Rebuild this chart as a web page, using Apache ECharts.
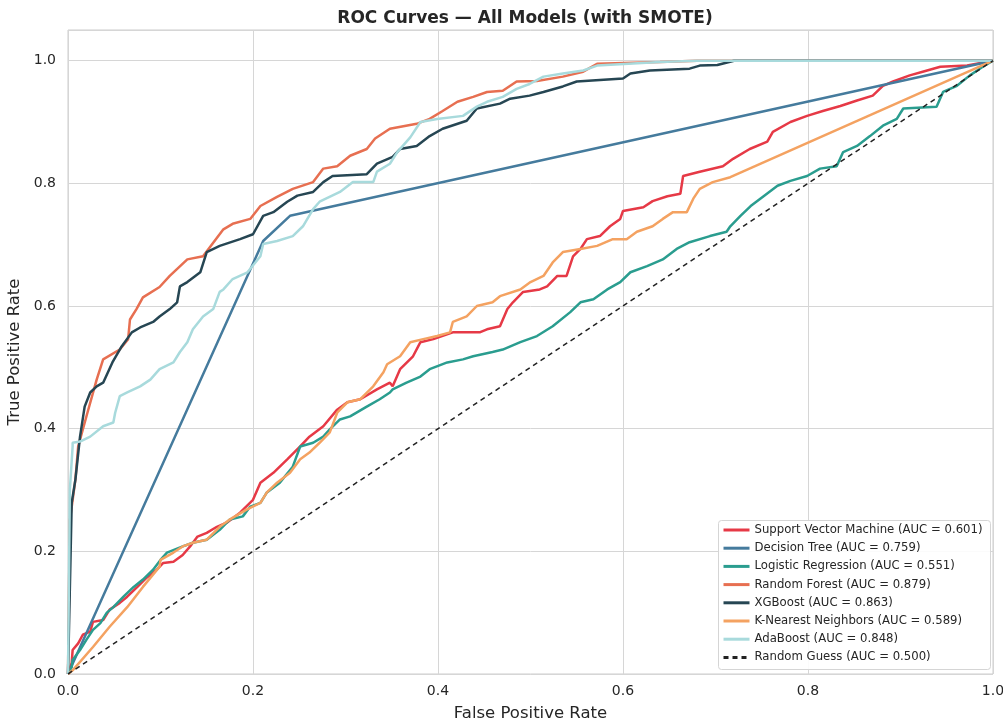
<!DOCTYPE html>
<html>
<head>
<meta charset="utf-8">
<script src="https://cdn.jsdelivr.net/npm/echarts@6/dist/echarts.min.js"></script>
<style>
html,body{margin:0;padding:0;background:#fff;}
#chart{width:1003px;height:722px;}
</style>
</head>
<body>
<div id="chart"></div>
<script>
const chartTitle = 'ROC Curves — All Models (with SMOTE)';
const xLabel = 'False Positive Rate';
const yLabel = 'True Positive Rate';
const xTicks = [0, 0.2, 0.4, 0.6, 0.8, 1.0];
const yTicks = [0, 0.2, 0.4, 0.6, 0.8, 1.0];

const modelNames = ['Support Vector Machine', 'Decision Tree', 'Logistic Regression', 'Random Forest', 'XGBoost', 'K-Nearest Neighbors', 'AdaBoost', 'Random Guess'];
const aucValues = [0.601, 0.759, 0.551, 0.879, 0.863, 0.589, 0.848, 0.500];
const colors = ['#E63946', '#457B9D', '#2A9D8F', '#E76F51', '#264653', '#F4A261', '#A8DADC', '#222222'];

const svmRoc = [[0,0],[0.004,0.018],[0.005,0.039],[0.011,0.05],[0.016,0.064],[0.024,0.069],[0.027,0.085],[0.038,0.088],[0.045,0.105],[0.056,0.116],[0.064,0.126],[0.075,0.142],[0.085,0.157],[0.096,0.17],[0.103,0.181],[0.114,0.183],[0.124,0.194],[0.132,0.208],[0.14,0.224],[0.15,0.23],[0.161,0.24],[0.172,0.247],[0.186,0.263],[0.2,0.284],[0.208,0.312],[0.222,0.328],[0.237,0.35],[0.251,0.371],[0.261,0.387],[0.276,0.404],[0.291,0.431],[0.302,0.443],[0.316,0.448],[0.334,0.464],[0.348,0.475],[0.351,0.469],[0.359,0.497],[0.373,0.518],[0.381,0.541],[0.395,0.546],[0.416,0.557],[0.445,0.557],[0.453,0.562],[0.467,0.567],[0.475,0.595],[0.481,0.606],[0.492,0.623],[0.51,0.627],[0.518,0.632],[0.529,0.649],[0.539,0.649],[0.546,0.681],[0.554,0.693],[0.561,0.709],[0.575,0.714],[0.586,0.73],[0.597,0.742],[0.6,0.755],[0.622,0.761],[0.632,0.771],[0.648,0.779],[0.662,0.783],[0.665,0.812],[0.683,0.819],[0.708,0.828],[0.719,0.84],[0.737,0.856],[0.756,0.868],[0.762,0.884],[0.781,0.9],[0.799,0.91],[0.816,0.918],[0.835,0.926],[0.853,0.935],[0.87,0.943],[0.881,0.959],[0.892,0.966],[0.91,0.976],[0.924,0.982],[0.943,0.99],[0.972,0.992],[1,1]];

const dtRoc = [[0,0],[0.211,0.706],[0.24,0.747],[1,1]];

const lrRoc = [[0,0],[0.004,0.011],[0.005,0.023],[0.013,0.039],[0.02,0.056],[0.027,0.072],[0.035,0.083],[0.042,0.1],[0.049,0.109],[0.06,0.126],[0.071,0.142],[0.081,0.154],[0.092,0.17],[0.1,0.186],[0.107,0.198],[0.124,0.208],[0.135,0.214],[0.15,0.219],[0.164,0.235],[0.175,0.252],[0.189,0.257],[0.197,0.273],[0.208,0.279],[0.215,0.296],[0.229,0.312],[0.243,0.338],[0.251,0.371],[0.265,0.377],[0.276,0.387],[0.283,0.399],[0.294,0.415],[0.305,0.42],[0.323,0.436],[0.337,0.448],[0.348,0.459],[0.351,0.464],[0.366,0.475],[0.381,0.485],[0.391,0.497],[0.41,0.508],[0.427,0.513],[0.438,0.518],[0.459,0.525],[0.47,0.529],[0.489,0.541],[0.507,0.551],[0.524,0.567],[0.543,0.59],[0.554,0.606],[0.568,0.611],[0.583,0.627],[0.597,0.639],[0.608,0.655],[0.626,0.665],[0.643,0.676],[0.658,0.693],[0.672,0.704],[0.694,0.714],[0.712,0.721],[0.716,0.73],[0.727,0.747],[0.738,0.763],[0.752,0.779],[0.767,0.796],[0.781,0.804],[0.799,0.812],[0.813,0.824],[0.831,0.828],[0.838,0.851],[0.853,0.861],[0.867,0.877],[0.881,0.894],[0.896,0.905],[0.903,0.922],[0.939,0.925],[0.946,0.949],[0.961,0.959],[0.975,0.976],[0.989,0.99],[1,1]];

const rfRoc = [[0,0],[0.002,0.25],[0.004,0.252],[0.008,0.317],[0.011,0.371],[0.021,0.426],[0.031,0.48],[0.038,0.513],[0.056,0.529],[0.065,0.546],[0.067,0.578],[0.074,0.595],[0.081,0.614],[0.099,0.631],[0.11,0.649],[0.129,0.676],[0.146,0.681],[0.168,0.725],[0.178,0.734],[0.197,0.742],[0.208,0.763],[0.226,0.778],[0.243,0.791],[0.265,0.802],[0.276,0.824],[0.291,0.828],[0.305,0.845],[0.323,0.856],[0.332,0.873],[0.348,0.889],[0.377,0.897],[0.391,0.905],[0.405,0.918],[0.421,0.933],[0.438,0.941],[0.453,0.949],[0.47,0.951],[0.485,0.966],[0.507,0.967],[0.535,0.974],[0.557,0.982],[0.572,0.995],[0.64,0.998],[0.68,1],[1,1]];

const xgbRoc = [[0,0],[0.004,0.279],[0.008,0.317],[0.013,0.387],[0.018,0.436],[0.024,0.459],[0.031,0.469],[0.038,0.475],[0.048,0.508],[0.058,0.534],[0.069,0.557],[0.078,0.565],[0.092,0.574],[0.099,0.583],[0.11,0.595],[0.118,0.606],[0.121,0.632],[0.129,0.639],[0.143,0.655],[0.15,0.688],[0.164,0.698],[0.186,0.709],[0.2,0.717],[0.211,0.747],[0.222,0.753],[0.237,0.77],[0.248,0.78],[0.265,0.786],[0.276,0.802],[0.286,0.812],[0.323,0.815],[0.334,0.832],[0.351,0.843],[0.359,0.856],[0.377,0.861],[0.391,0.877],[0.405,0.889],[0.431,0.902],[0.442,0.922],[0.467,0.93],[0.478,0.938],[0.499,0.943],[0.514,0.949],[0.535,0.958],[0.55,0.966],[0.6,0.971],[0.608,0.979],[0.629,0.984],[0.672,0.987],[0.683,0.992],[0.702,0.993],[0.72,1],[1,1]];

const knnRoc = [[0,0],[0.005,0.006],[0.027,0.044],[0.045,0.077],[0.064,0.109],[0.081,0.142],[0.099,0.175],[0.1,0.186],[0.114,0.198],[0.124,0.208],[0.135,0.214],[0.15,0.219],[0.164,0.24],[0.175,0.252],[0.193,0.268],[0.208,0.279],[0.215,0.296],[0.226,0.312],[0.24,0.328],[0.251,0.35],[0.261,0.361],[0.272,0.377],[0.283,0.394],[0.291,0.426],[0.302,0.443],[0.316,0.448],[0.33,0.469],[0.341,0.492],[0.345,0.505],[0.359,0.518],[0.37,0.541],[0.384,0.546],[0.399,0.551],[0.413,0.557],[0.416,0.574],[0.431,0.583],[0.442,0.6],[0.459,0.606],[0.467,0.616],[0.489,0.627],[0.5,0.639],[0.514,0.649],[0.524,0.671],[0.535,0.688],[0.554,0.693],[0.572,0.698],[0.589,0.709],[0.604,0.709],[0.615,0.721],[0.632,0.73],[0.643,0.742],[0.654,0.753],[0.669,0.753],[0.676,0.775],[0.683,0.791],[0.697,0.802],[0.716,0.81],[1,1]];

const adaRoc = [[0,0],[0.002,0.3],[0.005,0.371],[0.005,0.377],[0.013,0.379],[0.024,0.387],[0.038,0.404],[0.049,0.41],[0.051,0.426],[0.056,0.453],[0.064,0.459],[0.078,0.469],[0.089,0.48],[0.099,0.497],[0.114,0.508],[0.121,0.525],[0.129,0.541],[0.135,0.562],[0.146,0.583],[0.157,0.595],[0.164,0.623],[0.168,0.627],[0.178,0.644],[0.194,0.655],[0.208,0.681],[0.211,0.701],[0.226,0.706],[0.243,0.714],[0.254,0.73],[0.265,0.758],[0.272,0.77],[0.294,0.786],[0.308,0.802],[0.33,0.802],[0.334,0.819],[0.348,0.832],[0.356,0.851],[0.37,0.875],[0.381,0.9],[0.399,0.905],[0.427,0.91],[0.442,0.925],[0.453,0.933],[0.47,0.941],[0.485,0.954],[0.499,0.962],[0.514,0.974],[0.535,0.979],[0.557,0.984],[0.572,0.992],[0.64,0.998],[0.68,1],[1,1]];

const randomRoc = [[0,0],[1,1]];

const curves = [svmRoc, dtRoc, lrRoc, rfRoc, xgbRoc, knnRoc, adaRoc, randomRoc];

const FONT = 'DejaVu Sans';
const series = modelNames.map((name, i) => {
  const isRandom = i === modelNames.length - 1;
  return {
    name: name + ' (AUC = ' + aucValues[i].toFixed(3) + ')',
    type: 'line',
    data: curves[i],
    symbol: 'none',
    showSymbol: false,
    smooth: false,
    animation: false,
    clip: true,
    z: 2 + i,
    lineStyle: {
      color: colors[i],
      width: isRandom ? 1.5 : 2.5,
      type: isRandom ? [5, 4] : 'solid'
    },
    itemStyle: { color: colors[i] },
    emphasis: { disabled: true }
  };
});

const fmt = (v, ticks) => ticks.some(t => Math.abs(t - v) < 1e-9) ? v.toFixed(1) : '';

const chart = echarts.init(document.getElementById('chart'), null, { renderer: 'canvas' });
chart.setOption({
  backgroundColor: '#ffffff',
  animation: false,
  title: {
    text: chartTitle,
    left: 520,
    top: 5,
    textAlign: 'center',
    textStyle: { fontFamily: FONT, fontSize: 17, fontWeight: 'bold', color: '#262626' }
  },
  grid: {
    left: 68, right: 10, top: 30, bottom: 48,
    containLabel: false,
    outerBoundsMode: 'none',
    show: true, borderColor: '#cccccc', borderWidth: 1, backgroundColor: '#ffffff'
  },
  graphic: [{
    type: 'rect',
    left: 718, top: 520, z: 90,
    shape: { width: 272, height: 149, r: 3 },
    style: { fill: 'rgba(255,255,255,0.9)', stroke: '#d5d5d5', lineWidth: 1 },
    silent: true
  }],
  legend: {
    orient: 'vertical',
    left: 717,
    top: 519,
    z: 100,
    itemWidth: 26,
    itemHeight: 12,
    itemGap: 6.2,
    padding: [5, 1, 5, 5],
    backgroundColor: 'transparent',
    borderWidth: 0,
    itemStyle: { opacity: 0 },
    lineStyle: { width: 3 },
    textStyle: { fontFamily: FONT, fontSize: 11.7, color: '#262626' },
    data: series.map(s => s.name)
  },
  xAxis: {
    type: 'value', min: 0, max: 1, interval: 0.2,
    name: xLabel, nameLocation: 'middle', nameGap: 31,
    nameTextStyle: { fontFamily: FONT, fontSize: 16.5, color: '#262626' },
    axisLine: { show: false },
    axisTick: { show: false },
    axisLabel: { fontFamily: FONT, fontSize: 14, color: '#262626', margin: 10, formatter: v => fmt(v, xTicks) },
    splitLine: { show: true, lineStyle: { color: '#d6d6d6', width: 1 } }
  },
  yAxis: {
    type: 'value', min: 0, max: 1.05, interval: 0.2,
    name: yLabel, nameLocation: 'middle', nameGap: 41,
    nameTextStyle: { fontFamily: FONT, fontSize: 16.5, color: '#262626' },
    axisLine: { show: false },
    axisTick: { show: false },
    axisLabel: { fontFamily: FONT, fontSize: 14, color: '#262626', margin: 12, formatter: v => fmt(v, yTicks) },
    splitLine: { show: true, lineStyle: { color: '#d6d6d6', width: 1 } }
  },
  series: series
});
</script>
</body>
</html>
